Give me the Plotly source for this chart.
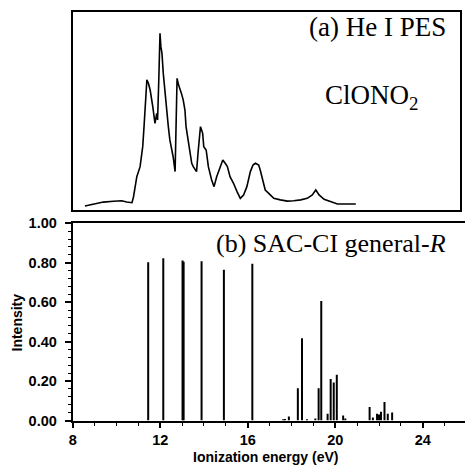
import plotly.graph_objects as go

# (a) He I photoelectron spectrum (arbitrary units)
pes_energy = [8.56, 8.94, 9.40, 9.86, 10.24, 10.47, 10.71, 10.78, 10.93, 11.08, 11.20, 11.26,
              11.32, 11.39, 11.46, 11.54, 11.66, 11.76, 11.84, 11.88, 11.93, 11.99, 12.03, 12.08,
              12.14, 12.22, 12.29, 12.37, 12.44, 12.59, 12.68, 12.75, 12.77, 12.84, 12.90, 12.97,
              13.05, 13.13, 13.18, 13.28, 13.44, 13.51, 13.66, 13.74, 13.84, 13.94, 13.99, 14.10,
              14.20, 14.35, 14.46, 14.58, 14.73, 14.86, 14.97, 15.07, 15.19, 15.35, 15.51, 15.66,
              15.81, 15.96, 16.12, 16.24, 16.35, 16.50, 16.57, 16.69, 16.80, 16.96, 17.19, 17.49,
              17.81, 18.10, 18.42, 18.72, 18.95, 19.11, 19.26, 19.49, 19.80, 20.10, 20.41, 20.94]
pes_intensity = [0.020, 0.030, 0.040, 0.044, 0.047, 0.040, 0.037, 0.067, 0.168, 0.219, 0.320, 0.421,
                 0.556, 0.657, 0.640, 0.606, 0.522, 0.438, 0.488, 0.455, 0.640, 0.892, 0.825, 0.791,
                 0.690, 0.589, 0.488, 0.421, 0.354, 0.269, 0.194, 0.556, 0.665, 0.631, 0.614, 0.589,
                 0.556, 0.505, 0.421, 0.354, 0.236, 0.219, 0.194, 0.303, 0.421, 0.387, 0.320, 0.303,
                 0.219, 0.152, 0.118, 0.168, 0.219, 0.253, 0.236, 0.219, 0.168, 0.135, 0.093, 0.059,
                 0.076, 0.118, 0.194, 0.227, 0.236, 0.227, 0.202, 0.143, 0.101, 0.084, 0.059, 0.051,
                 0.045, 0.047, 0.051, 0.059, 0.076, 0.101, 0.076, 0.054, 0.042, 0.030, 0.030, 0.030]

# (b) SAC-CI general-R ionization energies (eV) and intensities
sac_energy = [11.45, 12.14, 13.02, 13.07, 13.89, 14.91, 16.21, 17.62, 17.70, 17.88, 18.29, 18.48,
              18.71, 19.09, 19.24, 19.36, 19.65, 19.79, 19.93, 20.07, 20.36, 20.46, 21.57, 21.72,
              21.91, 22.00, 22.09, 22.25, 22.40, 22.60]
sac_intensity = [0.802, 0.823, 0.811, 0.805, 0.807, 0.765, 0.795, 0.006, 0.008, 0.020, 0.164, 0.417,
                 0.006, 0.010, 0.164, 0.606, 0.034, 0.210, 0.193, 0.232, 0.025, 0.010, 0.068, 0.015,
                 0.034, 0.030, 0.045, 0.094, 0.034, 0.040]

y_ticks = [0.0, 0.2, 0.4, 0.6, 0.8, 1.0]
x_ticks = [8, 12, 16, 20, 24]

# build stick segments
stick_x, stick_y = [], []
for e, h in zip(sac_energy, sac_intensity):
    stick_x += [e, e, None]
    stick_y += [0, h, None]

fig = go.Figure()
fig.add_trace(go.Scatter(x=pes_energy, y=pes_intensity, mode="lines",
                         line=dict(color="black", width=1.6), xaxis="x2", yaxis="y2",
                         showlegend=False, hoverinfo="skip"))
fig.add_trace(go.Scatter(x=stick_x, y=stick_y, mode="lines",
                         line=dict(color="black", width=2), xaxis="x", yaxis="y",
                         showlegend=False, hoverinfo="skip"))

tickfont = dict(family="Liberation Sans, Arial, sans-serif", size=14.5, color="black", weight="bold")
left = 72.7 / 465
px_per_ev = 21.88

fig.update_layout(
    width=465, height=466,
    margin=dict(l=0, r=0, t=0, b=0, autoexpand=False),
    paper_bgcolor="white", plot_bgcolor="white",
    xaxis=dict(domain=[left, 1.0], range=[8, 8 + (465 - 72.7) / px_per_ev],
               tickvals=x_ticks, ticks="outside", ticklen=5, tickwidth=1.5,
               tickcolor="black", showline=True, linecolor="black", linewidth=2,
               mirror=True, showgrid=False, zeroline=False, tickfont=tickfont,
               automargin=False,
               minor=dict(dtick=1, tick0=8, ticks="outside", ticklen=3, tickwidth=1.2,
                          tickcolor="black", showgrid=False),
               anchor="y"),
    yaxis=dict(domain=[1 - 420.5 / 466, 1 - 223.3 / 466], range=[0, 1.0],
               tickvals=y_ticks, tickformat=".2f", ticks="outside", ticklen=6,
               tickwidth=1.5, tickcolor="black", showline=True, linecolor="black",
               linewidth=2, showgrid=False, zeroline=False, tickfont=tickfont,
               automargin=False, ticklabelstandoff=5,
               minor=dict(dtick=0.04, tick0=0, ticks="outside", ticklen=3, tickwidth=1.2,
                          tickcolor="black", showgrid=False),
               anchor="x"),
    xaxis2=dict(domain=[left, 460 / 465], range=[8, 8 + (460 - 72.7) / px_per_ev],
                showticklabels=False, ticks="", showline=True, linecolor="black",
                linewidth=2, mirror=True, showgrid=False, zeroline=False, anchor="y2",
                automargin=False),
    yaxis2=dict(domain=[1 - 210 / 466, 1 - 12 / 466], range=[0, 1],
                showticklabels=False, ticks="", showline=True, linecolor="black",
                linewidth=2, mirror=True, showgrid=False, zeroline=False, anchor="x2",
                automargin=False),
)

serif = "Liberation Serif, Times New Roman, serif"
sans = "Liberation Sans, Arial, sans-serif"
fig.add_annotation(text="(a) He I PES", xref="paper", yref="paper",
                   x=448 / 465, y=1 - 27 / 466, xanchor="right", yanchor="middle",
                   showarrow=False, font=dict(family=serif, size=27, color="black"))
fig.add_annotation(text="ClONO<sub>2</sub>", xref="paper", yref="paper",
                   x=371 / 465, y=1 - 97 / 466, xanchor="center", yanchor="middle",
                   showarrow=False, font=dict(family=serif, size=27, color="black"))
fig.add_annotation(text="(b) SAC-CI general-<i>R</i>", xref="paper", yref="paper",
                   x=448 / 465, y=1 - 243 / 466, xanchor="right", yanchor="middle",
                   showarrow=False, font=dict(family=serif, size=26, color="black"))
fig.add_annotation(text="Intensity", xref="paper", yref="paper",
                   x=16.5 / 465, y=1 - 323 / 466, xanchor="center", yanchor="middle",
                   textangle=-90, showarrow=False,
                   font=dict(family=sans, size=14, color="black", weight="bold"))
fig.add_annotation(text="Ionization energy (eV)", xref="paper", yref="paper",
                   x=265.7 / 465, y=1 - 457 / 466, xanchor="center", yanchor="middle",
                   showarrow=False,
                   font=dict(family=sans, size=14, color="black", weight="bold"))

fig.write_html("out.html", config={"displayModeBar": False},
               post_script="document.body.style.margin='0';document.body.style.overflow='hidden';")
